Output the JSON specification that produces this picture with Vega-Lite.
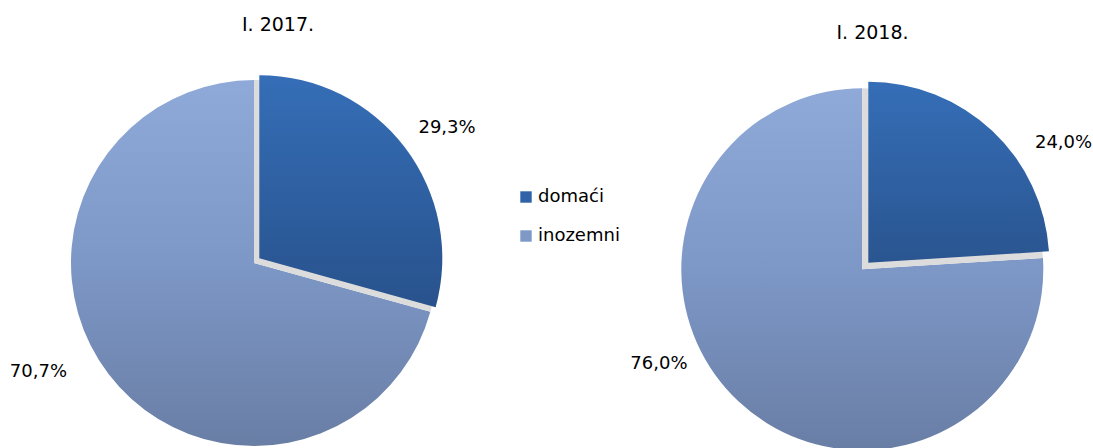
{
  "$schema": "https://vega.github.io/schema/vega-lite/v6.json",
  "width": 1093,
  "height": 448,
  "padding": 0,
  "autosize": {"type": "none"},
  "background": "white",
  "config": {
    "view": {"stroke": null},
    "font": "DejaVu Sans",
    "text": {"font": "DejaVu Sans", "fontSize": 18, "color": "#000000", "align": "center", "baseline": "middle"},
    "legend": {
      "orient": "none",
      "legendX": 517,
      "legendY": 188,
      "padding": 0,
      "symbolType": "square",
      "symbolSize": 130,
      "symbolOpacity": 1,
      "symbolStrokeWidth": 0,
      "labelFont": "DejaVu Sans",
      "labelFontSize": 18,
      "labelColor": "#000000",
      "labelOffset": 3,
      "rowPadding": 21
    }
  },
  "data": {
    "values": [
      {"year": "I. 2017.", "origin": "domaći", "pct": 29.3, "label": "29,3%"},
      {"year": "I. 2017.", "origin": "inozemni", "pct": 70.7, "label": "70,7%"},
      {"year": "I. 2018.", "origin": "domaći", "pct": 24.0, "label": "24,0%"},
      {"year": "I. 2018.", "origin": "inozemni", "pct": 76.0, "label": "76,0%"}
    ]
  },
  "encoding": {
    "x": {"field": "year", "type": "nominal", "scale": {"type": "point", "padding": 0, "domain": ["I. 2017.", "I. 2018."], "range": [254, 862.3]}, "axis": null},
    "y": {"field": "year", "type": "nominal", "scale": {"type": "point", "padding": 0, "domain": ["I. 2017.", "I. 2018."], "range": [263, 269.3]}, "axis": null}
  },
  "layer": [
    {
      "transform": [
        {"stack": "pct", "groupby": ["year"], "sort": [{"field": "origin"}], "as": ["t0", "t1"]},
        {"filter": "datum.year === 'I. 2017.' && datum.origin === 'inozemni'"}
      ],
      "mark": {"type": "arc", "radius": 183, "fill": {"gradient": "linear", "x1": 0, "y1": 0, "x2": 0, "y2": 1, "stops": [{"offset": 0, "color": "#8fa9d8"}, {"offset": 0.5, "color": "#7d97c6"}, {"offset": 1, "color": "#697ea5"}]}},
      "encoding": {
        "theta": {"field": "t0", "type": "quantitative", "scale": {"domain": [0, 100], "range": [0, 6.283185]}},
        "theta2": {"field": "t1"}
      }
    },
    {
      "transform": [
        {"stack": "pct", "groupby": ["year"], "sort": [{"field": "origin"}], "as": ["t0", "t1"]},
        {"filter": "datum.year === 'I. 2017.' && datum.origin === 'domaći'"}
      ],
      "mark": {"type": "arc", "radius": 183, "fill": "#dcdcdc"},
      "encoding": {
        "theta": {"field": "t0", "type": "quantitative"},
        "theta2": {"field": "t1"}
      }
    },
    {
      "transform": [
        {"stack": "pct", "groupby": ["year"], "sort": [{"field": "origin"}], "as": ["t0", "t1"]},
        {"filter": "datum.year === 'I. 2017.' && datum.origin === 'domaći'"}
      ],
      "mark": {"type": "arc", "radius": 183, "xOffset": 5.3, "yOffset": -4.7, "fill": {"gradient": "linear", "x1": 0, "y1": 0, "x2": 0, "y2": 1, "stops": [{"offset": 0, "color": "#356eb7"}, {"offset": 1, "color": "#28528c"}]}},
      "encoding": {
        "theta": {"field": "t0", "type": "quantitative"},
        "theta2": {"field": "t1"}
      }
    },
    {
      "transform": [
        {"stack": "pct", "groupby": ["year"], "sort": [{"field": "origin"}], "as": ["t0", "t1"]},
        {"filter": "datum.year === 'I. 2018.' && datum.origin === 'inozemni'"}
      ],
      "mark": {"type": "arc", "radius": 181, "fill": {"gradient": "linear", "x1": 0, "y1": 0, "x2": 0, "y2": 1, "stops": [{"offset": 0, "color": "#8fa9d8"}, {"offset": 0.5, "color": "#7d97c6"}, {"offset": 1, "color": "#697ea5"}]}},
      "encoding": {
        "theta": {"field": "t0", "type": "quantitative"},
        "theta2": {"field": "t1"}
      }
    },
    {
      "transform": [
        {"stack": "pct", "groupby": ["year"], "sort": [{"field": "origin"}], "as": ["t0", "t1"]},
        {"filter": "datum.year === 'I. 2018.' && datum.origin === 'domaći'"}
      ],
      "mark": {"type": "arc", "radius": 181, "fill": "#dcdcdc"},
      "encoding": {
        "theta": {"field": "t0", "type": "quantitative"},
        "theta2": {"field": "t1"}
      }
    },
    {
      "transform": [
        {"stack": "pct", "groupby": ["year"], "sort": [{"field": "origin"}], "as": ["t0", "t1"]},
        {"filter": "datum.year === 'I. 2018.' && datum.origin === 'domaći'"}
      ],
      "mark": {"type": "arc", "radius": 181, "xOffset": 6, "yOffset": -6.6, "fill": {"gradient": "linear", "x1": 0, "y1": 0, "x2": 0, "y2": 1, "stops": [{"offset": 0, "color": "#356eb7"}, {"offset": 1, "color": "#2a5590"}]}},
      "encoding": {
        "theta": {"field": "t0", "type": "quantitative"},
        "theta2": {"field": "t1"}
      }
    },
    {
      "transform": [{"filter": "datum.year === 'I. 2017.'"}],
      "mark": {"type": "text", "radius": 230, "dx": 10, "dy": 4.3},
      "encoding": {
        "theta": {"field": "pct", "type": "quantitative", "stack": true},
        "order": {"field": "origin"},
        "text": {"condition": {"test": "datum.origin === 'domaći'", "field": "label"}, "value": ""}
      }
    },
    {
      "transform": [{"filter": "datum.year === 'I. 2017.'"}],
      "mark": {"type": "text", "radius": 230, "dx": -32.5, "dy": -30.3},
      "encoding": {
        "theta": {"field": "pct", "type": "quantitative", "stack": true},
        "order": {"field": "origin"},
        "text": {"condition": {"test": "datum.origin === 'inozemni'", "field": "label"}, "value": ""}
      }
    },
    {
      "transform": [{"filter": "datum.year === 'I. 2018.'"}],
      "mark": {"type": "text", "radius": 230, "dx": 43.8, "dy": 41.4},
      "encoding": {
        "theta": {"field": "pct", "type": "quantitative", "stack": true},
        "order": {"field": "origin"},
        "text": {"condition": {"test": "datum.origin === 'domaći'", "field": "label"}, "value": ""}
      }
    },
    {
      "transform": [{"filter": "datum.year === 'I. 2018.'"}],
      "mark": {"type": "text", "radius": 230, "dx": -45.9, "dy": -73},
      "encoding": {
        "theta": {"field": "pct", "type": "quantitative", "stack": true},
        "order": {"field": "origin"},
        "text": {"condition": {"test": "datum.origin === 'inozemni'", "field": "label"}, "value": ""}
      }
    },
    {
      "transform": [{"filter": "datum.year === 'I. 2017.' && datum.origin === 'domaći'"}],
      "mark": {"type": "text", "dx": 24, "dy": -238, "fontSize": 19},
      "encoding": {"text": {"field": "year"}}
    },
    {
      "transform": [{"filter": "datum.year === 'I. 2018.' && datum.origin === 'domaći'"}],
      "mark": {"type": "text", "dx": 10.2, "dy": -236, "fontSize": 19},
      "encoding": {"text": {"field": "year"}}
    },
    {
      "mark": {"type": "square", "opacity": 0},
      "encoding": {
        "color": {
          "field": "origin",
          "type": "nominal",
          "scale": {"domain": ["domaći", "inozemni"], "range": ["#2f62a6", "#7f99c7"]},
          "legend": {"title": null}
        }
      }
    }
  ]
}
